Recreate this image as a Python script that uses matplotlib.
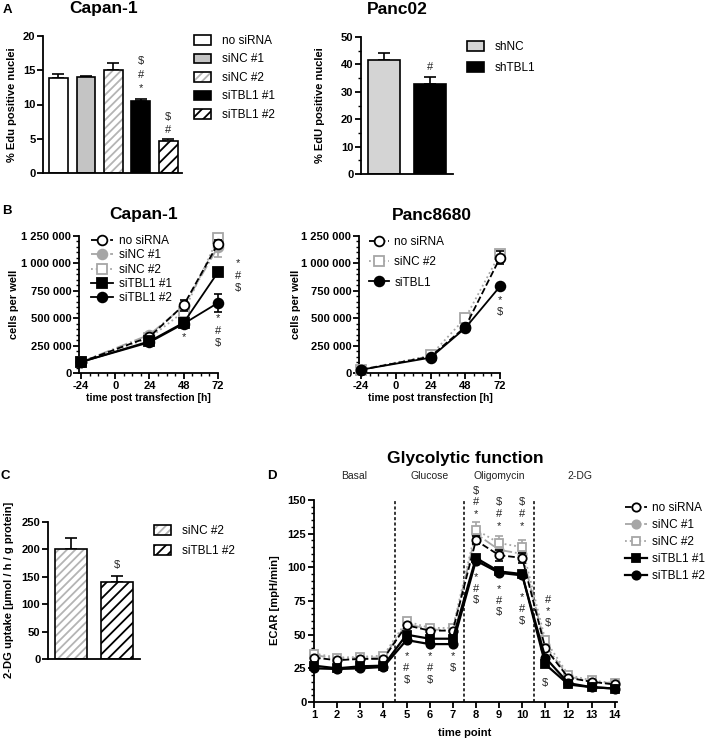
import matplotlib
matplotlib.use('Agg')
import matplotlib.pyplot as plt
from matplotlib.patches import Patch
from matplotlib.ticker import MultipleLocator, FuncFormatter

# ---- data -------------------------------------------------------------
edu_groups = ['no siRNA', 'siNC #1', 'siNC #2', 'siTBL1 #1', 'siTBL1 #2']
edu_capan = [13.9, 14.0, 15.1, 10.5, 4.7]
edu_capan_err = [0.5, 0.1, 1.0, 0.25, 0.2]

panc02_groups = ['shNC', 'shTBL1']
edu_panc02 = [41.6, 32.9]
edu_panc02_err = [2.7, 2.4]

hours = [-24, 24, 48, 72]
capan_no = [100000, 330000, 620000, 1180000]
capan_nc1 = [100000, 350000, 610000, 1150000]
capan_nc2 = [100000, 320000, 560000, 1230000]
capan_tbl1 = [100000, 290000, 460000, 920000]
capan_tbl2 = [100000, 280000, 450000, 640000]
capan_no_err = [0, 0, 50000, 30000]
capan_nc1_err = [0, 0, 30000, 95000]
capan_tbl1_err = [0, 0, 40000, 20000]
capan_tbl2_err = [0, 0, 20000, 85000]

panc_no = [30000, 150000, 420000, 1050000]
panc_nc2 = [30000, 160000, 500000, 1090000]
panc_tbl = [30000, 140000, 410000, 790000]
panc_no_err = [0, 0, 0, 60000]

uptake_groups = ['siNC #2', 'siTBL1 #2']
uptake = [200, 141]
uptake_err = [20, 11]

timepoints = list(range(1, 15))
ecar_no = [33, 31, 32, 32, 57, 53, 53, 120, 109, 107, 40, 18, 15, 13]
ecar_nc1 = [35, 32, 33, 33, 58, 54, 53, 125, 113, 110, 42, 19, 15, 14]
ecar_nc2 = [36, 33, 33.5, 34.5, 60, 55, 55, 128, 118, 115, 46, 20, 16, 14]
ecar_tbl1 = [27, 25, 26.5, 27, 50, 47, 47, 107, 97, 95, 28, 13, 11, 10]
ecar_tbl2 = [25, 24.5, 25, 26, 46, 43, 43, 105, 96, 94, 33, 14, 11, 10]
ecar_no_err = [0, 0, 0, 0, 0, 0, 0, 3, 4, 4, 0, 0, 0, 0]
ecar_nc2_err = [0, 0, 0, 0, 0, 0, 0, 6, 5, 5, 3, 0, 0, 0]
phases = ['Basal', 'Glucose', 'Oligomycin', '2-DG']
phase_centers = [2.75, 6, 9, 12.5]
injections = [4.5, 7.5, 10.5]

# ---- style ------------------------------------------------------------
plt.rcParams['font.family'] = ['Liberation Sans', 'DejaVu Sans']
plt.rcParams['hatch.linewidth'] = 1.3
plt.rcParams['axes.unicode_minus'] = False

LEG = 8.5
W, H = 707, 739
fig = plt.figure(figsize=(W / 100, H / 100), dpi=100)


def box(l, t, r, b):
    return [l / W, 1 - b / H, (r - l) / W, (b - t) / H]


def ftext(x, y, s, **kw):
    kw.setdefault('ha', 'center')
    kw.setdefault('va', 'center')
    fig.text(x / W, 1 - y / H, s, **kw)


def style(ax):
    for s in ['top', 'right']:
        ax.spines[s].set_visible(False)
    for s in ['left', 'bottom']:
        ax.spines[s].set_linewidth(1.3)
    ax.tick_params(direction='out', width=1.3, length=4, labelsize=8, pad=1.5)
    ax.tick_params(which='minor', direction='out', width=1.0, length=2)
    for lab in ax.get_xticklabels() + ax.get_yticklabels():
        lab.set_fontweight('bold')


def stack(ax, x, y, syms, step=9, size=8):
    for i, s in enumerate(syms):
        ax.annotate(s, (x, y), xytext=(0, -i * step), textcoords='offset points',
                    ha='center', va='center', fontsize=size, color='#222222',
                    annotation_clip=False)


bar_face = ['white', '#c4c4c4', 'white', 'black', 'white']
bar_hatch = [None, None, '////', None, '///']
hatch_col = [None, None, '#b4b4b4', None, 'black']


def bars(ax, xs, vals, errs, faces, hatches, hcols, width=0.68):
    handles = []
    for x, v, e, f, h, hc in zip(xs, vals, errs, faces, hatches, hcols):
        ax.errorbar(x, v, yerr=[[0], [e]], color='black', capsize=4,
                    elinewidth=1.2, capthick=1.2, zorder=1)
        if h:
            ax.bar(x, v, width, color='white', edgecolor=hc, hatch=h, linewidth=0, zorder=2)
            ax.bar(x, v, width, color='none', edgecolor='black', linewidth=1.2, zorder=3)
            handles.append((Patch(facecolor='white', edgecolor=hc, hatch=h, linewidth=0),
                            Patch(facecolor='none', edgecolor='black', linewidth=1.2)))
        else:
            ax.bar(x, v, width, color=f, edgecolor='black', linewidth=1.2, zorder=2)
            handles.append(Patch(facecolor=f, edgecolor='black', linewidth=1.2))
    return handles


def bar_legend(ax, handles, labels, x, y, spacing):
    ax.legend(handles, labels, loc='upper left', bbox_to_anchor=(x / W, 1 - y / H),
              bbox_transform=fig.transFigure, frameon=False, fontsize=LEG,
              handlelength=1.45, handleheight=0.85, handletextpad=0.9,
              labelspacing=spacing, borderpad=0, borderaxespad=0)


# ---- A: Capan-1 EdU ---------------------------------------------------
ax = fig.add_axes(box(43, 36, 182, 173))
h = bars(ax, range(5), edu_capan, edu_capan_err, bar_face, bar_hatch, hatch_col)
ax.set_xlim(-0.56, 4.5)
ax.set_ylim(0, 20)
ax.set_yticks([0, 5, 10, 15, 20])
ax.set_xticks([])
style(ax)
stack(ax, 3, 16.3, ['$', '#', '*'], step=9.5)
stack(ax, 4, 8.2, ['$', '#', '*'], step=9.5)
bar_legend(ax, h, edu_groups, 194, 35, 0.55)
ftext(104, 9, 'Capan-1', fontsize=12.5, fontweight='bold')
ftext(7, 10, 'A', fontsize=9.5, fontweight='bold')
ftext(12, 105, '% Edu positive nuclei', rotation=90, fontsize=8, fontweight='bold')

# ---- A: Panc02 EdU ----------------------------------------------------
ax = fig.add_axes(box(361, 37, 453, 174))
h = bars(ax, range(2), edu_panc02, edu_panc02_err, ['#d4d4d4', 'black'],
         [None, None], [None, None])
ax.set_xlim(-0.5, 1.5)
ax.set_ylim(0, 50)
ax.set_yticks(range(0, 51, 10))
ax.yaxis.set_minor_locator(MultipleLocator(5))
ax.set_xticks([])
style(ax)
stack(ax, 1, 39, ['#'])
bar_legend(ax, h, panc02_groups, 467, 41, 0.78)
ftext(397, 9, 'Panc02', fontsize=12.5, fontweight='bold')
ftext(320, 105, '% EdU positive nuclei', rotation=90, fontsize=8, fontweight='bold')

# ---- B: growth curves -------------------------------------------------
styles = {
    'no siRNA': dict(color='black', ls='--', marker='o', mfc='white', mec='black', zorder=4),
    'siNC #1': dict(color='#a6a6a6', ls='-.', marker='o', mfc='#a6a6a6', mec='#a6a6a6', zorder=3),
    'siNC #2': dict(color='#a6a6a6', ls=':', marker='s', mfc='white', mec='#a6a6a6', zorder=3),
    'siTBL1 #1': dict(color='black', ls='-', marker='s', mfc='black', mec='black', zorder=5),
    'siTBL1 #2': dict(color='black', ls='-', marker='o', mfc='black', mec='black', zorder=5),
}
space_fmt = FuncFormatter(lambda v, p: f"{v:,.0f}".replace(',', ' '))


def curve(ax, x, y, err, key, label, ms=7, lw=1.3):
    st = styles[key]
    if err is not None:
        ax.errorbar(x, y, yerr=err, fmt='none', ecolor=st['mec'], capsize=3,
                    elinewidth=1.2, capthick=1.2, zorder=st['zorder'], clip_on=False)
    ax.plot(x, y, color=st['color'], ls=st['ls'], marker=st['marker'],
            mfc=st['mfc'], mec=st['mec'], ms=ms, lw=lw, mew=1.3,
            zorder=st['zorder'], clip_on=False, label=label)


def growth_axes(ax):
    ax.set_xlim(-25.4, 72)
    ax.set_ylim(0, 1250000)
    ax.set_xticks([-24, 0, 24, 48, 72])
    ax.xaxis.set_minor_locator(MultipleLocator(6))
    ax.set_yticks(range(0, 1250001, 250000))
    ax.yaxis.set_minor_locator(MultipleLocator(50000))
    ax.yaxis.set_major_formatter(space_fmt)
    style(ax)


def line_legend(ax, x, y, spacing, length=2.0, pad=0.45):
    ax.legend(loc='upper left', bbox_to_anchor=(x / W, 1 - y / H),
              bbox_transform=fig.transFigure, frameon=False, fontsize=LEG,
              handlelength=length, handletextpad=pad, labelspacing=spacing,
              borderpad=0, borderaxespad=0)


ax = fig.add_axes(box(79, 236, 218, 373))
curve(ax, hours, capan_no, capan_no_err, 'no siRNA', 'no siRNA')
curve(ax, hours, capan_nc1, capan_nc1_err, 'siNC #1', 'siNC #1')
curve(ax, hours, capan_nc2, None, 'siNC #2', 'siNC #2')
curve(ax, hours, capan_tbl1, capan_tbl1_err, 'siTBL1 #1', 'siTBL1 #1')
curve(ax, hours, capan_tbl2, capan_tbl2_err, 'siTBL1 #2', 'siTBL1 #2')
growth_axes(ax)
stack(ax, 48, 330000, ['*'])
stack(ax, 86, 1000000, ['*', '#', '$'])
stack(ax, 72, 500000, ['*', '#', '$'])
line_legend(ax, 91, 235, 0.2, length=1.9)
ftext(144, 215, 'Capan-1', fontsize=12.5, fontweight='bold')
ftext(7, 211, 'B', fontsize=9.5, fontweight='bold')
ftext(14, 304, 'cells per well', rotation=90, fontsize=8, fontweight='bold')
ftext(148, 398, 'time post transfection [h]', fontsize=7.5, fontweight='bold')

ax = fig.add_axes(box(359, 236, 500, 373))
curve(ax, hours, panc_no, panc_no_err, 'no siRNA', 'no siRNA')
curve(ax, hours, panc_nc2, None, 'siNC #2', 'siNC #2')
curve(ax, hours, panc_tbl, None, 'siTBL1 #2', 'siTBL1')
growth_axes(ax)
stack(ax, 72, 667000, ['*', '$'])
line_legend(ax, 369, 236, 0.7, length=1.7)
ftext(432, 215, 'Panc8680', fontsize=12.5, fontweight='bold')
ftext(296, 304, 'cells per well', rotation=90, fontsize=8, fontweight='bold')
ftext(430, 398, 'time post transfection [h]', fontsize=7.5, fontweight='bold')

# ---- C: 2-DG uptake ---------------------------------------------------
ax = fig.add_axes(box(48, 522, 140, 659))
h = bars(ax, range(2), uptake, uptake_err, ['white', 'white'], ['////', '///'],
         ['#b4b4b4', 'black'])
ax.set_xlim(-0.5, 1.5)
ax.set_ylim(0, 250)
ax.set_yticks(range(0, 251, 50))
ax.set_xticks([])
style(ax)
stack(ax, 1, 172, ['$'])
bar_legend(ax, h, uptake_groups, 154, 525, 0.7)
ftext(5, 476, 'C', fontsize=9.5, fontweight='bold')
ftext(9, 590, '2-DG uptake [µmol / h / g protein]', rotation=90, fontsize=8,
      fontweight='bold')

# ---- D: glycolytic function -------------------------------------------
ax = fig.add_axes(box(314, 500, 617, 702))
curve(ax, timepoints, ecar_no, ecar_no_err, 'no siRNA', 'no siRNA', ms=6)
curve(ax, timepoints, ecar_nc1, None, 'siNC #1', 'siNC #1', ms=6)
curve(ax, timepoints, ecar_nc2, ecar_nc2_err, 'siNC #2', 'siNC #2', ms=6)
curve(ax, timepoints, ecar_tbl1, None, 'siTBL1 #1', 'siTBL1 #1', ms=6, lw=1.6)
curve(ax, timepoints, ecar_tbl2, None, 'siTBL1 #2', 'siTBL1 #2', ms=6, lw=1.6)
for xv in injections:
    ax.axvline(xv, color='black', ls=(0, (2, 1.5)), lw=1.1, zorder=1)
ax.set_xlim(1, 14.1)
ax.set_ylim(0, 150)
ax.set_xticks(timepoints)
ax.set_yticks(range(0, 151, 25))
ax.yaxis.set_minor_locator(MultipleLocator(5))
style(ax)
for name, xc in zip(phases, phase_centers):
    ax.text(xc, 168, name, ha='center', va='center', fontsize=7.5, color='#222222',
            clip_on=False)
for xv in [5, 6]:
    stack(ax, xv, 34, ['*', '#', '$'], step=8.5)
stack(ax, 7, 34, ['*', '$'], step=8.5)
stack(ax, 8, 157, ['$', '#', '*'], step=8.5)
stack(ax, 9, 148.5, ['$', '#', '*'], step=8.5)
stack(ax, 10, 148.5, ['$', '#', '*'], step=8.5)
stack(ax, 8, 93, ['*', '#', '$'], step=8.5)
stack(ax, 9, 84, ['*', '#', '$'], step=8.5)
stack(ax, 10, 78, ['*', '#', '$'], step=8.5)
stack(ax, 11.1, 76, ['#', '*', '$'], step=8.5)
stack(ax, 11, 14, ['$'])
line_legend(ax, 625, 502, 0.42, length=1.85, pad=0.42)
ftext(465, 458, 'Glycolytic function', fontsize=12.5, fontweight='bold')
ftext(272, 476, 'D', fontsize=9.5, fontweight='bold')
ftext(275, 600, 'ECAR [mpH/min]', rotation=90, fontsize=8, fontweight='bold')
ftext(465, 733, 'time point', fontsize=8, fontweight='bold')

fig.savefig('out.png', dpi=100)
